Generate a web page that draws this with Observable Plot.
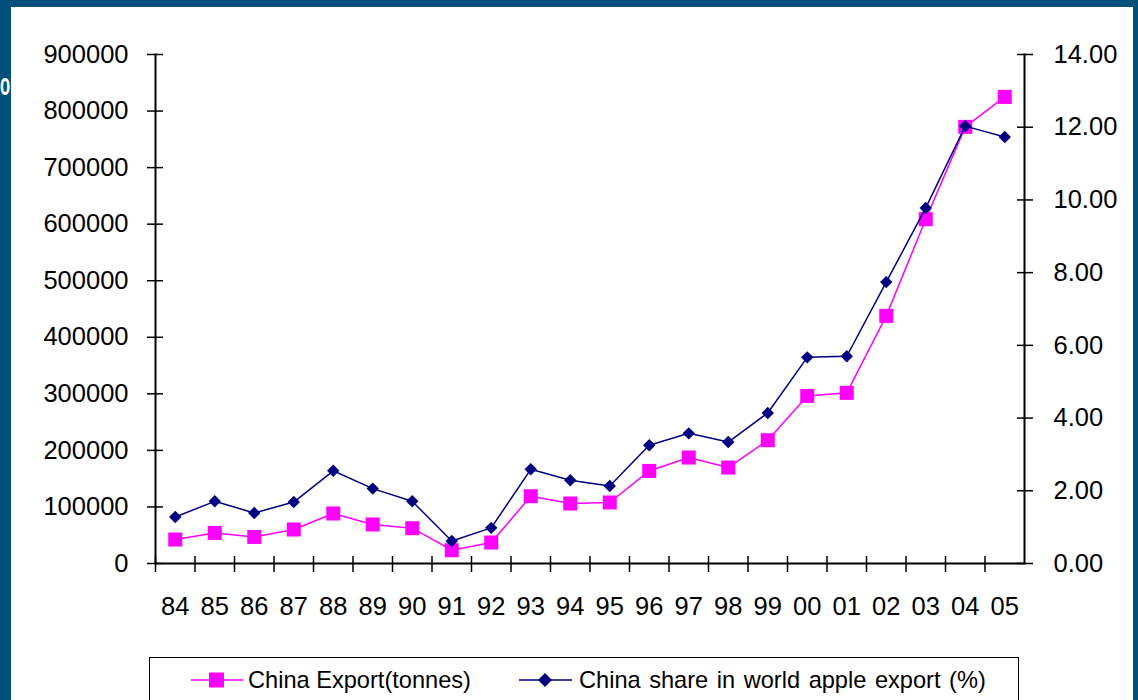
<!DOCTYPE html>
<html>
<head>
<meta charset="utf-8">
<script src="https://cdn.jsdelivr.net/npm/d3@7"></script>
<script src="https://cdn.jsdelivr.net/npm/@observablehq/plot@0.6"></script>
<style>
html, body { margin: 0; padding: 0; }
body { width: 1138px; height: 700px; overflow: hidden; background: #01507B; position: relative;
       font-family: "Liberation Sans", Arial, sans-serif; }
#frag { position: absolute; left: 0px; top: 68px; color: #fff; font-weight: bold; font-size: 32px; line-height: 32px;
        transform: scaleX(0.52); transform-origin: 0 0; }
#panel { position: absolute; left: 11px; top: 7px; width: 1122px; height: 700px; background: #fff; }
#chart { position: absolute; left: 0; top: 0; }
#legendBox { position: absolute; left: 149px; top: 657px; width: 870px; height: 60px; border: 1.5px solid #000; box-sizing: border-box; }
.sw { position: absolute; top: 670px; }
.lt { position: absolute; top: 669px; font-size: 23.6px; line-height: 23.6px; color: #000; white-space: nowrap; }
</style>
</head>
<body>
<div id="frag">o</div>
<div id="panel"></div>
<div id="chart"></div>
<div id="legendBox"></div>
<svg class="sw" style="left:191px" width="52" height="20"><line x1="0" y1="10" x2="52" y2="10" stroke="#FF00FF" stroke-width="1.5"/><rect x="18" y="2.5" width="15" height="15" fill="#FF00FF"/></svg>
<div class="lt" style="left:248px">China Export(tonnes)</div>
<svg class="sw" style="left:519px" width="53" height="20"><line x1="0" y1="10" x2="53" y2="10" stroke="#000080" stroke-width="1.5"/><path d="M26 3 L33 10 L26 17 L19 10 Z" fill="#000080"/></svg>
<div class="lt" style="left:579px; word-spacing:2px">China share  in world apple export (%)</div>
<script>
const years = ["84","85","86","87","88","89","90","91","92","93","94","95","96","97","98","99","00","01","02","03","04","05"];
const exportTonnes = [42400, 54100, 47000, 60100, 88400, 69000, 62400, 23500, 37100, 119000, 106100, 107900,
                      163700, 187400, 169700, 218000, 296300, 301700, 437800, 608800, 772000, 825000];
const sharePct = [1.28, 1.71, 1.39, 1.69, 2.55, 2.06, 1.71, 0.62, 0.98, 2.59, 2.29, 2.13,
                  3.25, 3.58, 3.34, 4.14, 5.67, 5.70, 7.74, 9.78, 12.03, 11.73];
const leftTicks = [0, 100000, 200000, 300000, 400000, 500000, 600000, 700000, 800000, 900000];
const rightTicks = [0, 2, 4, 6, 8, 10, 12, 14];
const yMax = 900000, shareMax = 14;
const k = yMax / shareMax;

const data = years.map((year, i) => ({year, exp: exportTonnes[i], share: sharePct[i]}));

const W = 1138, H = 640, ML = 155, MR = 114, MT = 54, MB = 77;
const bw = (W - ML - MR) / years.length;
const font = "'Liberation Sans', Arial, sans-serif";

const chart = Plot.plot({
  width: W, height: H,
  marginLeft: ML, marginRight: MR, marginTop: MT, marginBottom: MB,
  style: {fontFamily: font, fontSize: "25px", color: "#000", background: "transparent", overflow: "visible"},
  x: {type: "band", domain: years, padding: 0, round: false, axis: null, label: null},
  y: {domain: [0, yMax], axis: null, label: null},
  marks: [
    Plot.axisY({ticks: leftTicks, tickSize: 0, tickPadding: 27, tickFormat: d => String(d), fontSize: 25.5, label: null}),
    Plot.axisY({ticks: leftTicks, tickSize: 16, dx: 8, tickFormat: () => "", strokeWidth: 1.5, label: null}),
    Plot.axisY({anchor: "right", ticks: rightTicks.map(v => v * k), tickSize: 0, tickPadding: 29,
                tickFormat: d => (d / k).toFixed(2), fontSize: 25.5, label: null}),
    Plot.axisY({anchor: "right", ticks: rightTicks.map(v => v * k), tickSize: 16, dx: -8, tickFormat: () => "", strokeWidth: 1.5, label: null}),
    Plot.axisX({tickSize: 0, tickPadding: 33, fontSize: 25.5, label: null}),
    Plot.axisX({tickSize: 16, dx: -bw / 2, dy: -7, tickFormat: () => "", strokeWidth: 1.5, label: null}),
    Plot.ruleY([0], {strokeWidth: 2}),
    Plot.frame({anchor: "left", strokeWidth: 2}),
    Plot.frame({anchor: "right", strokeWidth: 2}),
    Plot.line(data, {x: "year", y: "exp", stroke: "#FF00FF", strokeWidth: 1.5}),
    Plot.dot(data, {x: "year", y: "exp", symbol: "square", fill: "#FF00FF", r: 7.9}),
    Plot.line(data, {x: "year", y: d => d.share * k, stroke: "#000080", strokeWidth: 1.5}),
    Plot.dot(data, {x: "year", y: d => d.share * k, symbol: "diamond2", fill: "#000080", r: 5.6})
  ]
});
document.getElementById("chart").appendChild(chart);
</script>
</body>
</html>
